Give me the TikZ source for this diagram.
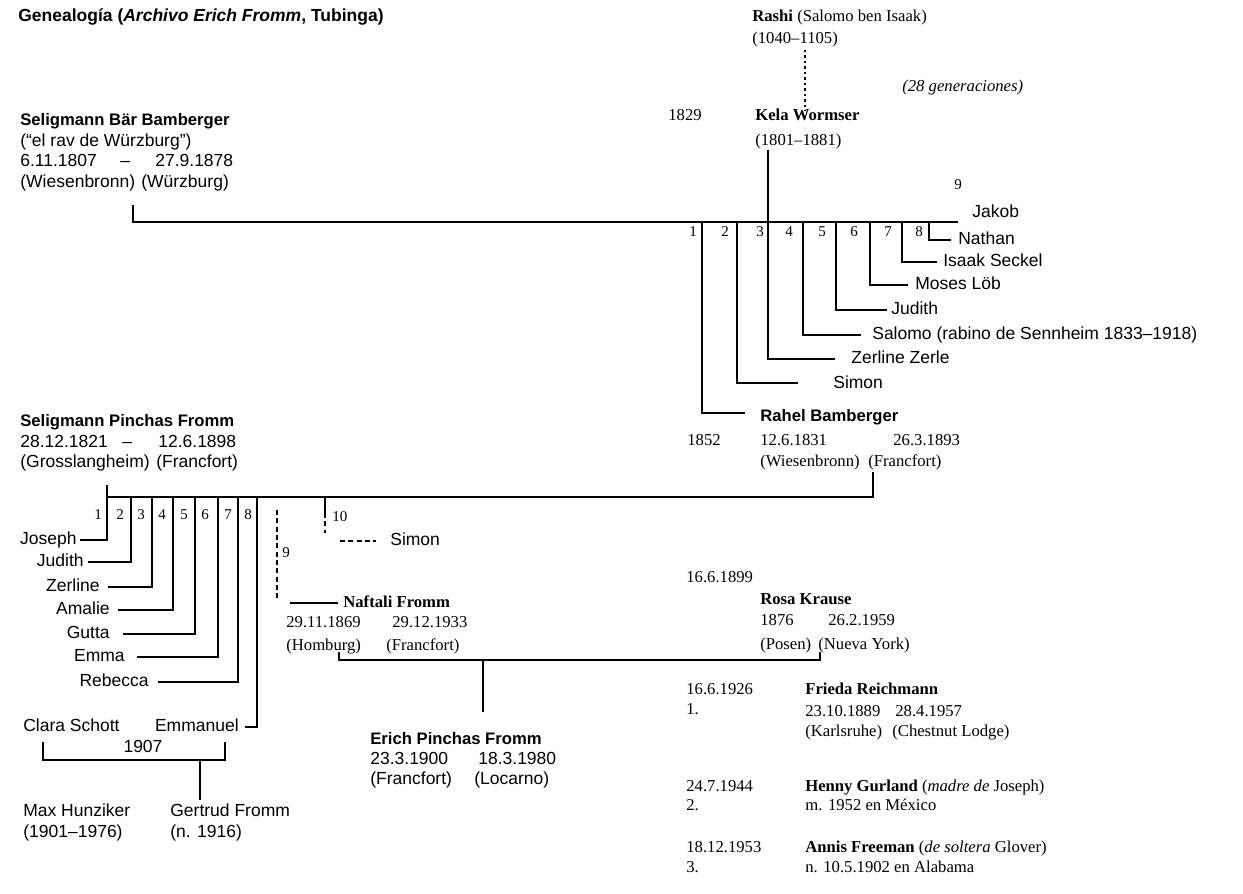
\documentclass[tikz,border=0pt]{standalone}
\usepackage{fontspec}
\setmainfont{Liberation Serif}
\newfontfamily\sansf{Liberation Sans}
\begin{document}
\begin{tikzpicture}[x=0.6pt,y=-0.6pt,
  every node/.style={inner sep=0pt, anchor=base west},
  ss/.style={font=\sansf\fontsize{10.5}{12}\selectfont},
  sb/.style={font=\sansf\bfseries\fontsize{10}{12}\selectfont},
  rs/.style={font=\fontsize{10}{12}\selectfont},
  rb/.style={font=\bfseries\fontsize{10}{12}\selectfont},
  ri/.style={font=\itshape\fontsize{10}{12}\selectfont},
  nm/.style={font=\fontsize{9}{10}\selectfont, anchor=base},
  ln/.style={line width=1.3pt},
  dl/.style={line width=1.1pt, dash pattern=on 3pt off 2pt},
  dt/.style={line width=1.3pt, dotted},
]
\useasboundingbox (0,0) rectangle (1243,894);

% title
\node[sb, font=\sansf\bfseries\fontsize{10.5}{12}\selectfont] (title) at (18,22) {Genealogía (\textit{Archivo Erich Fromm}, Tubinga)};

% Rashi / Kela
\node[rs] (rashi) at (752,22) {\textbf{Rashi} (Salomo ben Isaak)};
\node[rs] (rashiD) at (752,44) {(1040–1105)};
\node[ri] (gen) at (902,92) {(28 generaciones)};
\node[rs] (y1829) at (668,121) {1829};
\node[rb] (kela) at (755,121) {Kela Wormser};
\node[rs] (kelaD) at (755,145) {(1801–1881)};
\coordinate (rashiC) at (805,50);
\coordinate (kelaT) at (805,111);
\draw[dt] (rashiC) -- (kelaT);

% Seligmann Baer Bamberger
\node[sb] (sbb) at (20,125) {Seligmann Bär Bamberger};
\node[ss] (sbb2) at (20,146) {(“el rav de Würzburg”)};
\node[ss] (sbb3a) at (20,166) {6.11.1807};
\node[ss] (sbb3b) at (120,166) {–};
\node[ss] (sbb3c) at (155,166) {27.9.1878};
\node[ss] (sbb4a) at (20,187) {(Wiesenbronn)};
\node[ss] (sbb4b) at (141,187) {(Würzburg)};
\coordinate (sbbT) at (133,205);
\coordinate (barL) at (133,222);
\coordinate (barR) at (958,222);
\draw[ln] (sbbT) -- (barL) -- (barR);
\node[ss] (jakob) at (972,217) {Jakob};
\node[nm] (bn9) at (958,189) {9};

% children of Bamberger
\foreach \x/\n in {693/1,725/2,760/3,789/4,822/5,854/6,888/7,919/8}
  \node[nm] (bn\n) at (\x,236) {\n};
\coordinate (kelaL) at (768,150);
\draw[ln] (702,222) -- (702,413) -- (745,413);
\node[sb] (rahel) at (760,421) {Rahel Bamberger};
\draw[ln] (737,222) -- (737,383) -- (798,383);
\node[ss] (simonB) at (833,388) {Simon};
\draw[ln] (kelaL) -- (768,359) -- (835,359);
\node[ss] (zerle) at (851,363) {Zerline Zerle};
\draw[ln] (803,222) -- (803,335) -- (861,335);
\node[ss] (salomo) at (872,339) {Salomo (rabino de Sennheim 1833–1918)};
\draw[ln] (836,222) -- (836,310) -- (887,310);
\node[ss] (judithB) at (891,314) {Judith};
\draw[ln] (870,222) -- (870,285) -- (908,285);
\node[ss] (moses) at (915,289) {Moses Löb};
\draw[ln] (902,222) -- (902,262) -- (937,262);
\node[ss] (isaak) at (943,266) {Isaak Seckel};
\draw[ln] (929,222) -- (929,240) -- (951,240);
\node[ss] (nathan) at (958,244) {Nathan};

% Rahel
\node[rs] (y1852) at (687,445) {1852};
\node[rs] (rahelD1) at (760,445) {12.6.1831};
\node[rs] (rahelD2) at (893,445) {26.3.1893};
\node[rs] (rahelP1) at (760,466) {(Wiesenbronn)};
\node[rs] (rahelP2) at (868,466) {(Francfort)};
\coordinate (rahelB) at (873,472);
\coordinate (fbarR) at (873,497);
\coordinate (fbarL) at (107,497);
\draw[ln] (rahelB) -- (fbarR) -- (fbarL);

% Seligmann Pinchas Fromm
\node[sb] (spf) at (20,426) {Seligmann Pinchas Fromm};
\node[ss] (spfD1) at (20,447) {28.12.1821};
\node[ss] (spfD2) at (122,447) {–};
\node[ss] (spfD3) at (158,447) {12.6.1898};
\node[ss] (spfP1) at (20,467) {(Grosslangheim)};
\node[ss] (spfP2) at (156,467) {(Francfort)};
\coordinate (spfT) at (107,485);

% children of Fromm
\foreach \x/\n in {98/1,120/2,141/3,162/4,184/5,205/6,228/7,248/8}
  \node[nm] (fn\n) at (\x,519) {\n};
\draw[ln] (spfT) -- (107,540) -- (80,540);
\node[ss, anchor=base east] (joseph) at (77,544) {Joseph};
\draw[ln] (131,497) -- (131,562) -- (88,562);
\node[ss, anchor=base east] (judithF) at (84,566) {Judith};
\draw[ln] (152,497) -- (152,587) -- (108,587);
\node[ss, anchor=base east] (zerlineF) at (100,591) {Zerline};
\draw[ln] (173,497) -- (173,610) -- (118,610);
\node[ss, anchor=base east] (amalie) at (110,614) {Amalie};
\draw[ln] (195,497) -- (195,634) -- (123,634);
\node[ss, anchor=base east] (gutta) at (110,638) {Gutta};
\draw[ln] (218,497) -- (218,657) -- (137,657);
\node[ss, anchor=base east] (emma) at (125,661) {Emma};
\draw[ln] (238,497) -- (238,682) -- (158,682);
\node[ss, anchor=base east] (rebecca) at (149,686) {Rebecca};
\draw[ln] (257,497) -- (257,727) -- (245,727);
\node[ss, anchor=base east] (emmanuel) at (239,731) {Emmanuel};
\node[ss] (clara) at (23,731) {Clara Schott};

% Emmanuel marriage
\draw[ln] (43,742) -- (43,760) -- (225,760) -- (225,742);
\node[ss, anchor=base] (y1907) at (143,752) {1907};
\draw[ln] (200,760) -- (200,800);
\node[ss] (max) at (23,816) {Max Hunziker};
\node[ss] (maxD) at (23,837) {(1901–1976)};
\node[ss] (gertrud) at (170,816) {Gertrud Fromm};
\node[ss] (gertrudD) at (170,837) {(n. 1916)};

% child 9: Naftali
\draw[dl] (277,510) -- (277,600);
\node[nm] (fn9) at (286,557) {9};
\draw[ln] (290,603) -- (338,603);
\node[rb] (naftali) at (343,607) {Naftali Fromm};
\node[rs] (naftD1) at (286,627) {29.11.1869};
\node[rs] (naftD2) at (392,627) {29.12.1933};
\node[rs] (naftP1) at (286,650) {(Homburg)};
\node[rs] (naftP2) at (386,650) {(Francfort)};

% child 10: Simon
\draw[ln] (325,497) -- (325,513);
\draw[dl] (325,513) -- (325,533);
\node[nm, anchor=base west] (fn10) at (332,521) {10};
\draw[dl] (340,541) -- (376,541);
\node[ss] (simonF) at (390,545) {Simon};

% Naftali + Rosa
\node[rs] (y1899) at (686,582) {16.6.1899};
\node[rb] (rosa) at (760,604) {Rosa Krause};
\node[rs] (rosaD1) at (760,625) {1876};
\node[rs] (rosaD2) at (828,625) {26.2.1959};
\node[rs] (rosaP1) at (760,649) {(Posen)};
\node[rs] (rosaP2) at (818,649) {(Nueva York)};
\draw[ln] (339,652) -- (339,660) -- (820,660) -- (820,652);
\draw[ln] (483,660) -- (483,712);

% Erich
\node[sb] (erich) at (370,744) {Erich Pinchas Fromm};
\node[ss] (erichD1) at (370,764) {23.3.1900};
\node[ss] (erichD2) at (478,764) {18.3.1980};
\node[ss] (erichP1) at (370,784) {(Francfort)};
\node[ss] (erichP2) at (474,784) {(Locarno)};

% wives
\node[rs] (w1d) at (686,694) {16.6.1926};
\node[rs] (w1n) at (686,714) {1.};
\node[rb] (frieda) at (805,694) {Frieda Reichmann};
\node[rs] (friedaD1) at (805,716) {23.10.1889};
\node[rs] (friedaD2) at (895,716) {28.4.1957};
\node[rs] (friedaP1) at (805,736) {(Karlsruhe)};
\node[rs] (friedaP2) at (892,736) {(Chestnut Lodge)};
\node[rs] (w2d) at (686,791) {24.7.1944};
\node[rs] (w2n) at (686,810) {2.};
\node[rs] (henny) at (805,791) {\textbf{Henny Gurland} (\textit{madre de} Joseph)};
\node[rs] (hennyD) at (805,810) {m. 1952 en México};
\node[rs] (w3d) at (686,852) {18.12.1953};
\node[rs] (w3n) at (686,872) {3.};
\node[rs] (annis) at (805,852) {\textbf{Annis Freeman} (\textit{de soltera} Glover)};
\node[rs] (annisD) at (805,872) {n. 10.5.1902 en Alabama};
\end{tikzpicture}
\end{document}
